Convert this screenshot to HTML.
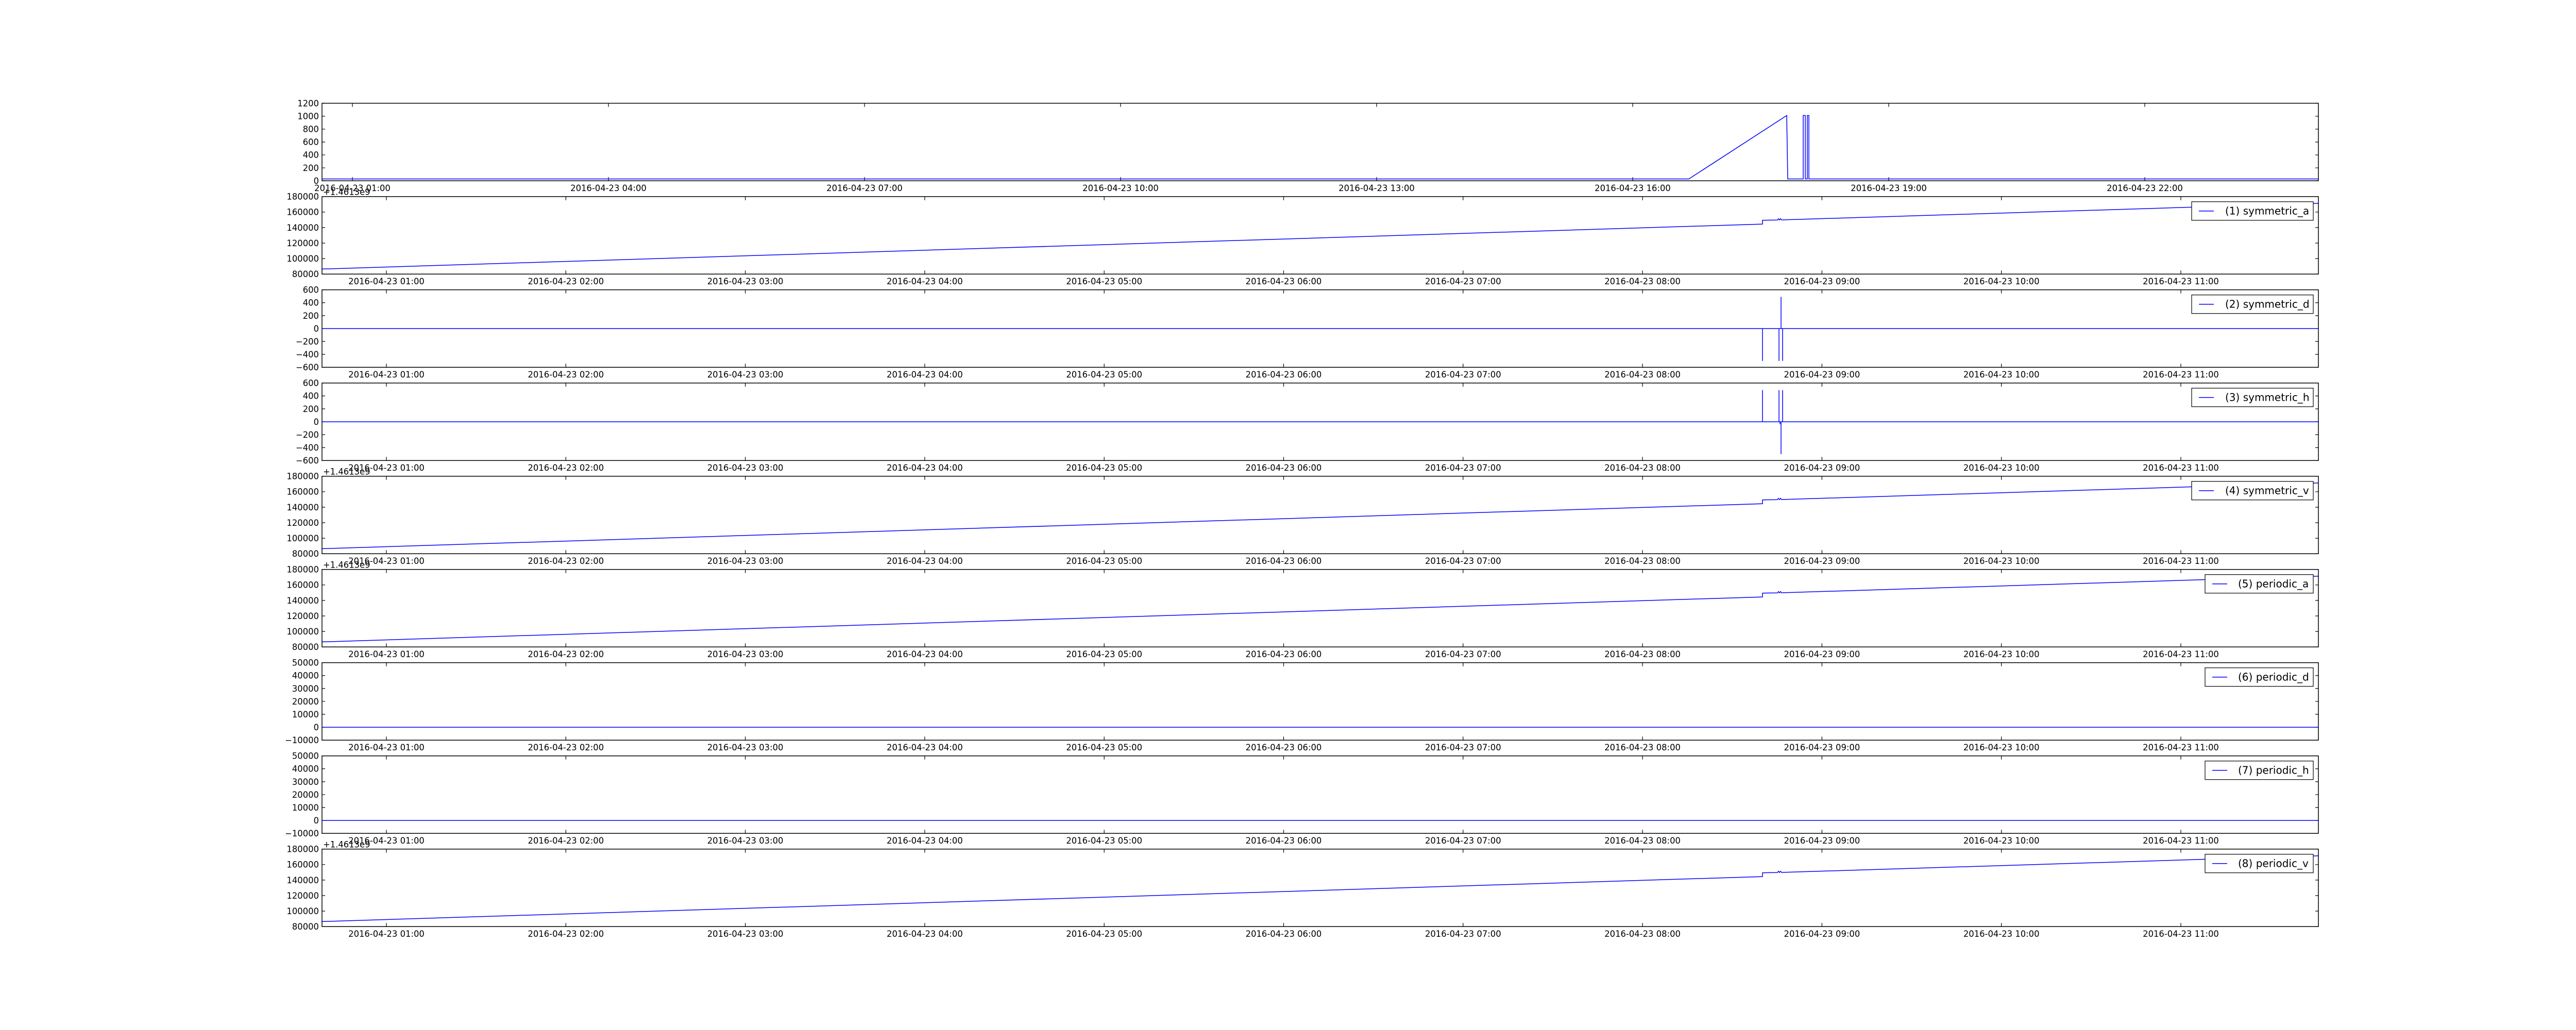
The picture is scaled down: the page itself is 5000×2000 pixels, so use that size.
<!DOCTYPE html>
<html><head><meta charset="utf-8"><style>
html,body{margin:0;padding:0;background:#fff;}
svg{display:block;}
text{font-family:"DejaVu Sans","Liberation Sans",sans-serif;font-size:16.4px;fill:#000;}
.yl{text-anchor:end;}
.xl{text-anchor:middle;}
.lg{font-size:20px;}
.ax{fill:none;stroke:#000;stroke-width:1.5;}
.tk{stroke:#000;stroke-width:1.2;}
.d{fill:none;stroke:#0000ff;stroke-width:1.5;}
</style></head><body>
<svg width="5000" height="2000" viewBox="0 0 5000 2000" xmlns="http://www.w3.org/2000/svg">
<defs>
<clipPath id="c"><rect x="625" y="0" width="3875" height="150.5"/></clipPath>
<g id="xt1">
<path class="tk" d="M684,0v7M1181,0v7M1678,0v7M2175,0v7M2672,0v7M3169,0v7M3666,0v7M4163,0v7M684,150.5v-7M1181,150.5v-7M1678,150.5v-7M2175,150.5v-7M2672,150.5v-7M3169,150.5v-7M3666,150.5v-7M4163,150.5v-7"/>
</g>
<g id="xt">
<path class="tk" d="M750,0v7M1098.3,0v7M1446.6,0v7M1794.9,0v7M2143.2,0v7M2491.5,0v7M2839.8,0v7M3188.1,0v7M3536.4,0v7M3884.7,0v7M4233,0v7M750,150.5v-7M1098.3,150.5v-7M1446.6,150.5v-7M1794.9,150.5v-7M2143.2,150.5v-7M2491.5,150.5v-7M2839.8,150.5v-7M3188.1,150.5v-7M3536.4,150.5v-7M3884.7,150.5v-7M4233,150.5v-7"/>
<text class="xl" x="750" y="170.5">2016-04-23 01:00</text>
<text class="xl" x="1098.3" y="170.5">2016-04-23 02:00</text>
<text class="xl" x="1446.6" y="170.5">2016-04-23 03:00</text>
<text class="xl" x="1794.9" y="170.5">2016-04-23 04:00</text>
<text class="xl" x="2143.2" y="170.5">2016-04-23 05:00</text>
<text class="xl" x="2491.5" y="170.5">2016-04-23 06:00</text>
<text class="xl" x="2839.8" y="170.5">2016-04-23 07:00</text>
<text class="xl" x="3188.1" y="170.5">2016-04-23 08:00</text>
<text class="xl" x="3536.4" y="170.5">2016-04-23 09:00</text>
<text class="xl" x="3884.7" y="170.5">2016-04-23 10:00</text>
<text class="xl" x="4233" y="170.5">2016-04-23 11:00</text>
</g>
<g id="y6"><path class="tk" d="M625,0h6M625,30.1h6M625,60.2h6M625,90.3h6M625,120.4h6M625,150.5h6M4500,0h-6M4500,30.1h-6M4500,60.2h-6M4500,90.3h-6M4500,120.4h-6M4500,150.5h-6"/></g>
<g id="y7"><path class="tk" d="M625,0h6M625,25.08h6M625,50.17h6M625,75.25h6M625,100.33h6M625,125.42h6M625,150.5h6M4500,0h-6M4500,25.08h-6M4500,50.17h-6M4500,75.25h-6M4500,100.33h-6M4500,125.42h-6M4500,150.5h-6"/></g>
<g id="ya">
<use href="#y6"/>
<text class="yl" x="619" y="0" dy="0.36em">180000</text>
<text class="yl" x="619" y="30.1" dy="0.36em">160000</text>
<text class="yl" x="619" y="60.2" dy="0.36em">140000</text>
<text class="yl" x="619" y="90.3" dy="0.36em">120000</text>
<text class="yl" x="619" y="120.4" dy="0.36em">100000</text>
<text class="yl" x="619" y="150.5" dy="0.36em">80000</text>
<text x="627" y="-3">+1.4613e9</text>
<path class="d" clip-path="url(#c)" d="M625,140.7L3421,53.4L3421,46L3450,45.5L3452,43L3454,45.5L3456,43L3458,45.3L4500,13"/>
</g>
<g id="ys">
<use href="#y7"/>
<text class="yl" x="619" y="0" dy="0.36em">600</text>
<text class="yl" x="619" y="25.08" dy="0.36em">400</text>
<text class="yl" x="619" y="50.17" dy="0.36em">200</text>
<text class="yl" x="619" y="75.25" dy="0.36em">0</text>
<text class="yl" x="619" y="100.33" dy="0.36em">−200</text>
<text class="yl" x="619" y="125.42" dy="0.36em">−400</text>
<text class="yl" x="619" y="150.5" dy="0.36em">−600</text>
</g>
<g id="yp">
<use href="#y7"/>
<text class="yl" x="619" y="0" dy="0.36em">50000</text>
<text class="yl" x="619" y="25.08" dy="0.36em">40000</text>
<text class="yl" x="619" y="50.17" dy="0.36em">30000</text>
<text class="yl" x="619" y="75.25" dy="0.36em">20000</text>
<text class="yl" x="619" y="100.33" dy="0.36em">10000</text>
<text class="yl" x="619" y="125.42" dy="0.36em">0</text>
<text class="yl" x="619" y="150.5" dy="0.36em">−10000</text>
<path class="d" d="M625,125.4H4500"/>
</g>
</defs>
<rect width="5000" height="2000" fill="#fff"/>

<g transform="translate(0,200.5)">
<use href="#xt1"/>
<use href="#y7"/>
<text class="yl" x="619" y="0" dy="0.36em">1200</text>
<text class="yl" x="619" y="25.08" dy="0.36em">1000</text>
<text class="yl" x="619" y="50.17" dy="0.36em">800</text>
<text class="yl" x="619" y="75.25" dy="0.36em">600</text>
<text class="yl" x="619" y="100.33" dy="0.36em">400</text>
<text class="yl" x="619" y="125.42" dy="0.36em">200</text>
<text class="yl" x="619" y="150.5" dy="0.36em">0</text>
<text class="xl" x="684" y="170.5">2016-04-23 01:00</text>
<text class="xl" x="1181" y="170.5">2016-04-23 04:00</text>
<text class="xl" x="1678" y="170.5">2016-04-23 07:00</text>
<text class="xl" x="2175" y="170.5">2016-04-23 10:00</text>
<text class="xl" x="2672" y="170.5">2016-04-23 13:00</text>
<text class="xl" x="3169" y="170.5">2016-04-23 16:00</text>
<text class="xl" x="3666" y="170.5">2016-04-23 19:00</text>
<text class="xl" x="4163" y="170.5">2016-04-23 22:00</text>
<path class="d" d="M625,147L3278,147L3468,23.8L3470,147L3500,147L3500,23.8L3504,23.8L3504,147L3508,147L3508,23.8L3511,23.8L3511,147L4500,147"/>
<rect class="ax" x="625" y="0" width="3875" height="150.5"/>
</g>

<g transform="translate(0,381.7)">
<use href="#xt"/><use href="#ya"/>
<rect class="ax" x="625" y="0" width="3875" height="150.5"/>
<rect x="4254" y="10" width="236" height="36" fill="#fff" stroke="#000" stroke-width="1.2"/>
<path class="d" d="M4268,28H4297"/>
<text class="lg" x="4319" y="35">(1) symmetric_a</text>
</g>

<g transform="translate(0,562.7)">
<use href="#xt"/><use href="#ys"/>
<path class="d" d="M625,75.25H3421V138V75.25H3453V138V75.25H3457V13.8V75.25H3460V138V75.25H4500"/>
<rect class="ax" x="625" y="0" width="3875" height="150.5"/>
<rect x="4254" y="10" width="236" height="36" fill="#fff" stroke="#000" stroke-width="1.2"/>
<path class="d" d="M4268,28H4297"/>
<text class="lg" x="4319" y="35">(2) symmetric_d</text>
</g>

<g transform="translate(0,743.7)">
<use href="#xt"/><use href="#ys"/>
<path class="d" d="M625,75.25H3421V13.8V75.25H3453V13.8V75.25H3455V80V75.25H3457V138V75.25H3460V13.8V75.25H4500"/>
<rect class="ax" x="625" y="0" width="3875" height="150.5"/>
<rect x="4254" y="10" width="236" height="36" fill="#fff" stroke="#000" stroke-width="1.2"/>
<path class="d" d="M4268,28H4297"/>
<text class="lg" x="4319" y="35">(3) symmetric_h</text>
</g>

<g transform="translate(0,924.7)">
<use href="#xt"/><use href="#ya"/>
<rect class="ax" x="625" y="0" width="3875" height="150.5"/>
<rect x="4254" y="10" width="236" height="36" fill="#fff" stroke="#000" stroke-width="1.2"/>
<path class="d" d="M4268,28H4297"/>
<text class="lg" x="4319" y="35">(4) symmetric_v</text>
</g>

<g transform="translate(0,1105.7)">
<use href="#xt"/><use href="#ya"/>
<rect class="ax" x="625" y="0" width="3875" height="150.5"/>
<rect x="4280" y="10" width="210" height="36" fill="#fff" stroke="#000" stroke-width="1.2"/>
<path class="d" d="M4294,28H4323"/>
<text class="lg" x="4344" y="35">(5) periodic_a</text>
</g>

<g transform="translate(0,1286.7)">
<use href="#xt"/><use href="#yp"/>
<rect class="ax" x="625" y="0" width="3875" height="150.5"/>
<rect x="4280" y="10" width="210" height="36" fill="#fff" stroke="#000" stroke-width="1.2"/>
<path class="d" d="M4294,28H4323"/>
<text class="lg" x="4344" y="35">(6) periodic_d</text>
</g>

<g transform="translate(0,1467.7)">
<use href="#xt"/><use href="#yp"/>
<rect class="ax" x="625" y="0" width="3875" height="150.5"/>
<rect x="4280" y="10" width="210" height="36" fill="#fff" stroke="#000" stroke-width="1.2"/>
<path class="d" d="M4294,28H4323"/>
<text class="lg" x="4344" y="35">(7) periodic_h</text>
</g>

<g transform="translate(0,1648.7)">
<use href="#xt"/><use href="#ya"/>
<rect class="ax" x="625" y="0" width="3875" height="150.5"/>
<rect x="4280" y="10" width="210" height="36" fill="#fff" stroke="#000" stroke-width="1.2"/>
<path class="d" d="M4294,28H4323"/>
<text class="lg" x="4344" y="35">(8) periodic_v</text>
</g>
</svg>
</body></html>
